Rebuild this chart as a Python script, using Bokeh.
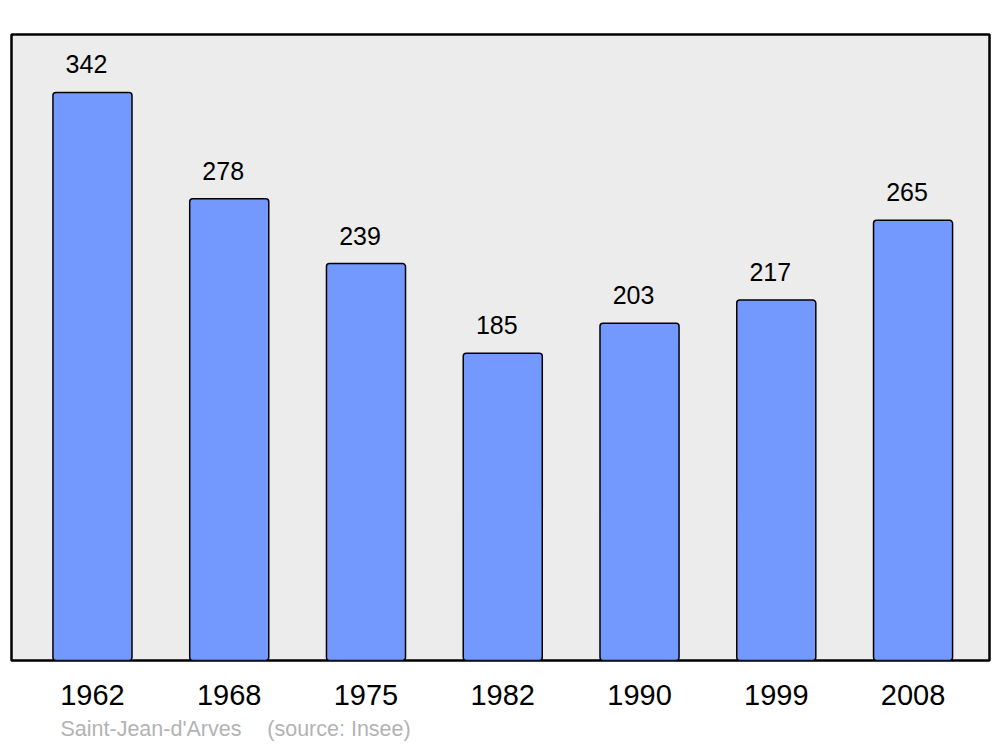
from bokeh.plotting import figure
from bokeh.models import ColumnDataSource, FixedTicker, Title, Range1d
from bokeh.embed import file_html
from bokeh.resources import INLINE
from bokeh.core.properties import value

years = ["1962", "1968", "1975", "1982", "1990", "1999", "2008"]
population = [342, 278, 239, 185, 203, 217, 265]
town = "Saint-Jean-d'Arves"
source_note = "(source: Insee)"

idx = list(range(len(years)))
src = ColumnDataSource(dict(x=idx, top=population, label=[str(v) for v in population]))

p = figure(width=1000, height=747, output_backend="svg", toolbar_location=None,
           x_range=Range1d(-0.592, 6.559), y_range=Range1d(0, 376.9),
           min_border_left=11, min_border_right=11, min_border_top=34, min_border_bottom=87)
p.background_fill_color = "#ececec"
p.border_fill_color = "white"
p.outline_line_color = "black"
p.outline_line_width = 2.5
p.grid.visible = False
p.yaxis.visible = False

p.vbar(x="x", top="top", bottom=0, width=0.578, source=src,
       fill_color="#7399ff", line_color="black", line_width=1.5, border_radius=3)

p.text(x="x", y="top", text="label", source=src, x_offset=-6, y_offset=-28,
       text_align="center", text_baseline="middle", text_font=value("Liberation Sans"),
       text_font_size="25px", text_color="black")

ax = p.xaxis[0]
ax.ticker = FixedTicker(ticks=idx)
ax.major_label_overrides = {i: y for i, y in zip(idx, years)}
ax.axis_line_color = None
ax.major_tick_line_color = None
ax.minor_tick_line_color = None
ax.major_label_text_font = "Liberation Sans"
ax.major_label_text_font_size = "29px"
ax.major_label_text_color = "black"
ax.major_label_standoff = 18

p.add_layout(Title(text=town + "\u2003\u2009" + source_note, align="left", offset=49,
                   standoff=14, text_font="Liberation Sans", text_font_size="21.5px",
                   text_font_style="normal", text_color="#b3b3b3"), "below")

open("out.html", "w").write(file_html(p, INLINE))
